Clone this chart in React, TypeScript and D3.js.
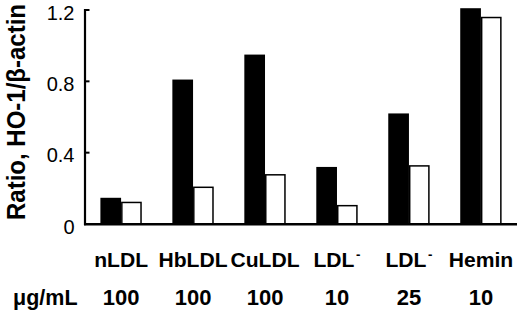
import React from "react";
import * as d3 from "d3";

const categories = ["nLDL", "HbLDL", "CuLDL", "LDL^-", "LDL^-", "Hemin"];
const doses = ["100", "100", "100", "10", "25", "10"];
const blackValues = [0.147, 0.81, 0.95, 0.32, 0.62, 1.21];
const whiteValues = [0.125, 0.21, 0.28, 0.107, 0.33, 1.162];
const yTicks = [0, 0.4, 0.8, 1.2];
const yTickLabels = ["0", "0.4", "0.8", "1.2"];
const seriesKeys = ["black", "white"];
const yLabel = "Ratio, HO-1/\u03B2-actin";
const doseUnit = "\u03BCg/mL";

const W = 520;
const H = 312;
const FONT = "'Liberation Sans', Arial, Helvetica, sans-serif";

export default function App() {
  const axisX = 85;
  const x = d3
    .scaleBand<number>()
    .domain(categories.map((_, i) => i))
    .range([86, 516])
    .paddingInner(0.425)
    .paddingOuter(0.2);
  const xs = d3.scaleBand<string>().domain(seriesKeys).range([0, x.bandwidth()]).padding(0);
  const y = d3.scaleLinear().domain([0, 1.2]).range([224, 10]);
  const base = y(0);

  const renderLabel = (lab: string) => {
    if (lab.endsWith("^-")) {
      return (
        <>
          {lab.slice(0, -2)}
          <tspan fontSize={13} dx={1.5} dy={-8}>-</tspan>
        </>
      );
    }
    return lab;
  };

  return (
    <svg
      width={W}
      height={H}
      viewBox={`0 0 ${W} ${H}`}
      style={{ position: "absolute", left: 0, top: 0, background: "#fff" }}
    >
      <rect x={0} y={0} width={W} height={H} fill="#fff" />
      {/* bars */}
      {categories.map((_, i) => {
        const gx = x(i) as number;
        const bw = xs.bandwidth();
        const bx = gx + (xs("black") as number);
        const wx = gx + (xs("white") as number);
        return (
          <g key={i}>
            <rect x={bx} y={y(blackValues[i])} width={bw} height={base - y(blackValues[i])} fill="#000" />
            <rect
              x={wx + 0.75}
              y={y(whiteValues[i]) + 0.75}
              width={bw - 1.5}
              height={base - y(whiteValues[i]) - 0.75}
              fill="#fff"
              stroke="#000"
              strokeWidth={1.5}
            />
          </g>
        );
      })}
      {/* axes */}
      <line x1={axisX} x2={axisX} y1={y(1.2) - 1} y2={base + 1.2} stroke="#000" strokeWidth={2.2} />
      <line x1={axisX - 1} x2={517} y1={base + 0.3} y2={base + 0.3} stroke="#000" strokeWidth={2.6} />
      {yTicks.map((t, i) => (
        <g key={t}>
          {t > 0 && (
            <line x1={axisX} x2={axisX + 4.5} y1={y(t)} y2={y(t)} stroke="#000" strokeWidth={2} />
          )}
          <text
            x={74.5}
            y={y(t)}
            textAnchor="end"
            dy="0.48em"
            fontFamily={FONT}
            fontSize={20}
            fill="#000"
          >
            {yTickLabels[i]}
          </text>
        </g>
      ))}
      {/* y label */}
      <text
        transform={`translate(25,112) scale(1.1,1) rotate(-90)`}
        textAnchor="middle"
        fontFamily={FONT}
        fontWeight="bold"
        fontSize={24}
        fill="#000"
      >
        {yLabel}
      </text>
      {/* category labels */}
      {categories.map((lab, i) => (
        <text
          key={"c" + i}
          transform={`translate(${(x(i) as number) + x.bandwidth() / 2},267) scale(1.03,1)`}
          textAnchor="middle"
          fontFamily={FONT}
          fontWeight="bold"
          fontSize={20.5}
          fill="#000"
        >
          {renderLabel(lab)}
        </text>
      ))}
      {/* dose labels */}
      <text
        x={13}
        y={304.5}
        textAnchor="start"
        fontFamily={FONT}
        fontWeight="bold"
        fontSize={21.5}
        fill="#000"
      >
        {doseUnit}
      </text>
      {doses.map((d, i) => (
        <text
          key={"d" + i}
          x={(x(i) as number) + x.bandwidth() / 2}
          y={304.5}
          textAnchor="middle"
          fontFamily={FONT}
          fontWeight="bold"
          fontSize={22}
          fill="#000"
        >
          {d}
        </text>
      ))}
    </svg>
  );
}
